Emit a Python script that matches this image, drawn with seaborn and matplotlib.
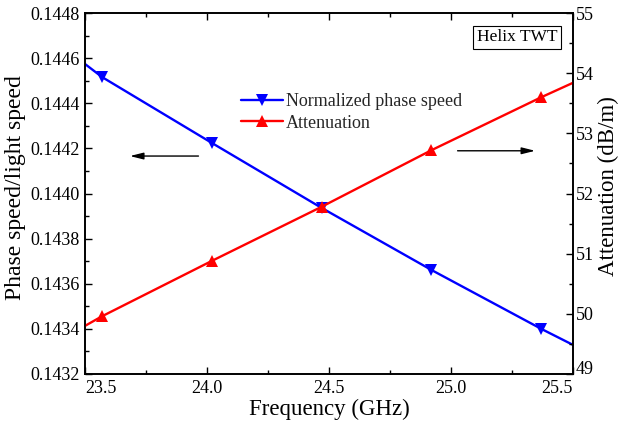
import matplotlib
matplotlib.use("Agg")
import matplotlib.pyplot as plt
from matplotlib.lines import Line2D
from matplotlib.ticker import MultipleLocator, FormatStrFormatter
import seaborn as sns
import pandas as pd

sns.set_theme(style="white")
plt.rcParams['font.family'] = ['Liberation Serif', 'DejaVu Serif']
plt.rcParams['mathtext.fontset'] = 'stix'

# Data (line extends to axis edges; markers on the inner points)
freq = [23.5, 23.57, 24.02, 24.47, 24.92, 25.37, 25.5]
phase_speed = [0.144574, 0.144516, 0.144224, 0.143936, 0.143661, 0.143400, 0.143329]
attenuation = [49.80, 49.96, 50.88, 51.78, 52.72, 53.60, 53.84]
marker_idx = [1, 2, 3, 4, 5]

df = pd.DataFrame({"freq": freq, "phase": phase_speed, "att": attenuation})

fig = plt.figure(figsize=(6.2, 4.21), dpi=100)
ax = fig.add_subplot(111)
fig.subplots_adjust(left=85/620, right=573/620, top=1-13/421, bottom=1-374/421)
ax2 = ax.twinx()

sns.lineplot(data=df, x="freq", y="phase", ax=ax, color="#0000ff", lw=1.7,
             marker="v", markersize=8.5, markevery=marker_idx, markeredgewidth=0,
             sort=False)
sns.lineplot(data=df, x="freq", y="att", ax=ax2, color="#ff0000", lw=1.7,
             marker="^", markersize=8.5, markevery=marker_idx, markeredgewidth=0,
             sort=False)

ax.set_xlim(23.5, 25.5)
ax.set_ylim(0.1432, 0.1448)
ax2.set_ylim(49, 55)

ax.xaxis.set_major_locator(MultipleLocator(0.5))
ax.xaxis.set_minor_locator(MultipleLocator(0.25))
ax.xaxis.set_major_formatter(FormatStrFormatter('%.1f'))
ax.yaxis.set_major_locator(MultipleLocator(0.0002))
ax.yaxis.set_minor_locator(MultipleLocator(0.0001))
ax.yaxis.set_major_formatter(FormatStrFormatter('%.4f'))
ax2.yaxis.set_major_locator(MultipleLocator(1))
ax2.yaxis.set_minor_locator(MultipleLocator(0.5))

for a in (ax, ax2):
    for s in a.spines.values():
        s.set_color("black")
        s.set_linewidth(1.2)

ax.tick_params(axis='x', which='both', direction='in', top=True, bottom=True,
               labelsize=13, pad=4.5, colors='black', width=1)
ax.tick_params(axis='y', which='both', direction='in', left=True, right=False,
               labelsize=13, pad=3.6, colors='black', width=1)
ax.tick_params(which='major', length=5)
ax.tick_params(which='minor', length=3)
ax2.tick_params(axis='y', which='both', direction='in', right=True, left=False,
                labelsize=13, pad=2, colors='black', width=1)
ax2.tick_params(which='major', length=5)
ax2.tick_params(which='minor', length=3)

fig.canvas.draw()
# Shift the edge tick labels inward, as in the reference
for tick, loc in zip(ax.xaxis.get_major_ticks(), ax.xaxis.get_majorticklocs()):
    if abs(loc - 23.5) < 1e-6:
        tick.label1.set_ha('left')
    elif abs(loc - 25.5) < 1e-6:
        tick.label1.set_ha('right')
for tick, loc in zip(ax2.yaxis.get_major_ticks(), ax2.yaxis.get_majorticklocs()):
    if abs(loc - 49) < 1e-6:
        tick.label2.set_va('baseline')

ax.set_xlabel("Frequency (GHz)", fontsize=16.5, color='black')
ax.xaxis.set_label_coords(0.5, (374-409)/361)
ax.xaxis.label.set_va('center')
ax.set_ylabel("Phase speed/light speed", fontsize=17, color='black')
ax.yaxis.set_label_coords((16-85)/488, 0.517)
ax.yaxis.label.set_va('center')
ax2.set_ylabel("Attenuation (dB/m)", fontsize=16.5, color='black')
ax2.yaxis.set_label_coords((608-85)/488, 0.52)
ax2.yaxis.label.set_va('center')
ax2.yaxis.label.set_ha('center')

handles = [
    Line2D([], [], color="#0000ff", lw=1.7, marker="v", markersize=8.5, markeredgewidth=0),
    Line2D([], [], color="#ff0000", lw=1.7, marker="^", markersize=8.5, markeredgewidth=0),
]
ax2.legend(handles, ["Normalized phase speed", "Attenuation"], loc='upper left',
           bbox_to_anchor=(241/620, 1-93/421), bbox_transform=fig.transFigure,
           frameon=False, fontsize=13, handlelength=2.3, handletextpad=0.2,
           labelspacing=0.25, borderaxespad=0, borderpad=0)

# Arrows indicating axes
ax.annotate("", xy=(23.684, 0.144166), xytext=(23.965, 0.144166),
            arrowprops=dict(arrowstyle='-|>,head_length=0.8,head_width=0.2',
                            color='black', lw=1, mutation_scale=10,
                            shrinkA=0, shrinkB=0))
ax2.annotate("", xy=(25.345, 52.71), xytext=(25.027, 52.71),
             arrowprops=dict(arrowstyle='-|>,head_length=0.8,head_width=0.2',
                             color='black', lw=1, mutation_scale=10,
                             shrinkA=0, shrinkB=0))

ax2.text(0.968, 0.955, "Helix TWT", transform=ax.transAxes, ha='right', va='top',
         fontsize=12.5, color='black',
         bbox=dict(boxstyle='square,pad=0.2', fc='white', ec='black', lw=0.8))

fig.savefig("out.png", dpi=100)
